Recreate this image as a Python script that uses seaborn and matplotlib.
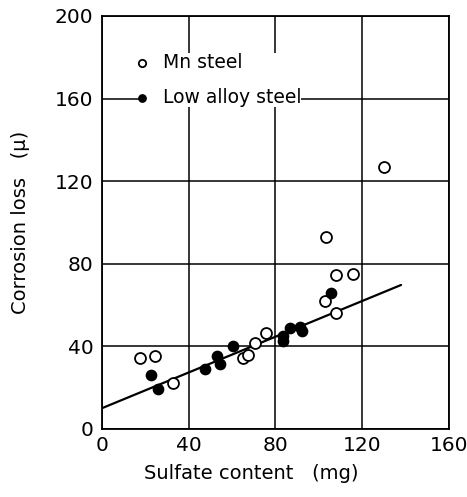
import matplotlib
matplotlib.use("Agg")
import matplotlib.pyplot as plt
import seaborn as sns
import pandas as pd

# Mn steel (open circles)
mn_x = [17.8, 24.7, 32.6, 65.1, 67.3, 70.5, 75.9, 102.8, 107.8, 108.2, 115.8, 103.5, 130.0]
mn_y = [34.5, 35.4, 22.0, 34.2, 36.0, 41.4, 46.4, 62.0, 56.0, 74.4, 75.2, 92.9, 126.8]

# Low alloy steel (filled circles)
la_x = [22.9, 25.7, 47.5, 52.9, 54.4, 60.5, 83.5, 83.5, 86.6, 91.2, 92.2, 105.5]
la_y = [26.2, 19.5, 29.2, 35.4, 31.5, 40.0, 45.2, 42.4, 48.7, 49.2, 47.2, 66.0]

# Fitted line endpoints
line_x = [0, 138]
line_y = [10, 69.7]

x_ticks = [0, 40, 80, 120, 160]
y_ticks = [0, 40, 80, 120, 160, 200]

sns.set_style("white")
plt.rcParams['font.family'] = ['DejaVu Sans']
plt.rcParams['text.color'] = 'black'

fig = plt.figure(figsize=(4.67, 4.97), dpi=100)
ax = fig.add_axes([0.218, 0.137, 0.743, 0.831])

df_mn = pd.DataFrame({"x": mn_x, "y": mn_y})
df_la = pd.DataFrame({"x": la_x, "y": la_y})
df_line = pd.DataFrame({"x": line_x, "y": line_y})

sns.lineplot(data=df_line, x="x", y="y", ax=ax, color="black", lw=1.6, zorder=3)
sns.scatterplot(data=df_mn, x="x", y="y", ax=ax, marker="o", s=62,
                facecolor="white", edgecolor="black", linewidth=1.3, zorder=4,
                label="Mn steel")
sns.scatterplot(data=df_la, x="x", y="y", ax=ax, marker="o", s=55,
                color="black", edgecolor="black", linewidth=1.0, zorder=5,
                label="Low alloy steel")

ax.set_xlim(0, 160)
ax.set_ylim(0, 200)
ax.set_xticks(x_ticks)
ax.set_yticks(y_ticks)
ax.set_xticklabels([str(t) for t in x_ticks])
ax.set_yticklabels([str(t) for t in y_ticks])
ax.tick_params(length=0, labelsize=14.5, colors="black")
ax.tick_params(axis="x", pad=5)
ax.tick_params(axis="y", pad=6)
ax.grid(True, color="black", lw=1.1)
ax.set_axisbelow(True)
for sp in ax.spines.values():
    sp.set_color("black")
    sp.set_linewidth(1.3)

ax.set_xlabel("Sulfate content   (mg)", fontsize=14, color="black")
ax.xaxis.set_label_coords(0.432, -0.085)
ax.set_ylabel("Corrosion loss   (μ)", fontsize=14, color="black", labelpad=18)

leg = ax.legend(loc="center left", bbox_to_anchor=(18.5, 169),
                bbox_transform=ax.transData, frameon=True, framealpha=1.0,
                fontsize=13.5, handlelength=0.0, handletextpad=1.1,
                borderpad=0.0, labelspacing=0.85, borderaxespad=0)
leg.get_frame().set_facecolor("white")
leg.get_frame().set_edgecolor("white")
leg.get_frame().set_linewidth(0)
leg.set_zorder(6)
for t in leg.get_texts():
    t.set_color("black")
for h in leg.legend_handles:
    h.set_sizes([28])

fig.savefig("out.png", dpi=100)
